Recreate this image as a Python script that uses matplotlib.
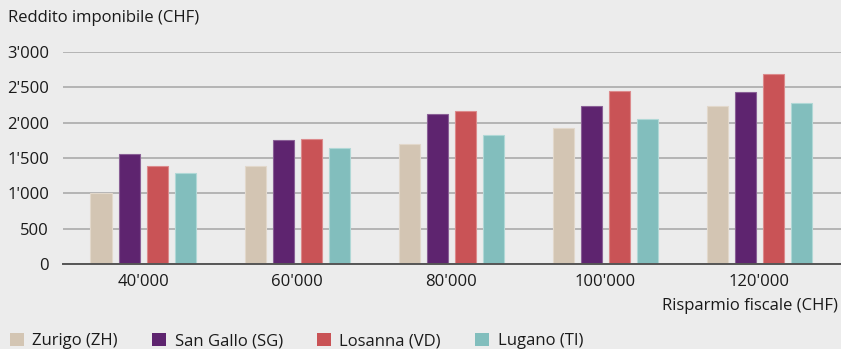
import numpy as np
import matplotlib.pyplot as plt
from matplotlib.patches import Patch

plt.rcParams['font.family'] = ['Open Sans', 'DejaVu Sans']

savings = ["40'000", "60'000", "80'000", "100'000", "120'000"]
cities = ['Zurigo (ZH)', 'San Gallo (SG)', 'Losanna (VD)', 'Lugano (TI)']
zurigo = [1000, 1385, 1695, 1925, 2240]
san_gallo = [1555, 1750, 2118, 2240, 2430]
losanna = [1385, 1765, 2170, 2448, 2693]
lugano = [1283, 1645, 1820, 2047, 2274]
yticks = [0, 500, 1000, 1500, 2000, 2500, 3000]
ytick_labels = ['0', '500', "1'000", "1'500", "2'000", "2'500", "3'000"]

colors = ['#d3c5b3', '#5e246f', '#c95356', '#82bebd']
edges = ['#e2d8cb', '#8a6096', '#dc8a8c', '#b0d8d6']
bg = '#ececec'

fig = plt.figure(figsize=(8.41, 3.49), dpi=100, facecolor=bg)
ax = fig.add_axes([63 / 841, 1 - 264 / 349, 778 / 841, 212 / 349], facecolor=bg)

x = np.arange(len(savings))
width = 0.137
pitch = 0.182
series = [zurigo, san_gallo, losanna, lugano]
for i, vals in enumerate(series):
    ax.bar(x + (i - 1.5) * pitch, vals, width, color=colors[i],
           edgecolor=edges[i], linewidth=0.8, zorder=3)

ax.set_xlim(-0.52, 4.53)
ax.set_ylim(0, 3000)
ax.set_yticks(yticks)
ax.set_yticklabels(ytick_labels)
ax.set_xticks(x)
ax.set_xticklabels(savings)
ax.tick_params(axis='both', length=0, labelsize=12, colors='#1a1a1a')
ax.tick_params(axis='y', pad=10)
ax.tick_params(axis='x', pad=7)
ax.grid(axis='y', color='#b4b4b4', linewidth=1.4, zorder=0)
for s in ['top', 'right', 'left']:
    ax.spines[s].set_visible(False)
ax.spines['bottom'].set_color('#555555')
ax.spines['bottom'].set_linewidth(1.4)
ax.spines['bottom'].set_zorder(4)

fig.text(8 / 841, 1 - 18 / 349, 'Reddito imponibile (CHF)', fontsize=12,
         color='#1a1a1a', va='center', ha='left')
fig.text(838 / 841, 1 - 306 / 349, 'Risparmio fiscale (CHF)', fontsize=12,
         color='#1a1a1a', va='center', ha='right')

handles = [Patch(facecolor=c, edgecolor='none') for c in colors]
fig.legend(handles, cities, loc='center left', bbox_to_anchor=(10 / 841, 1 - 341 / 349),
           ncol=4, frameon=False, fontsize=12, handlelength=0.85, handleheight=0.85,
           handletextpad=0.5, columnspacing=2.05, labelcolor='#1a1a1a',
           borderaxespad=0, borderpad=0)

fig.savefig('out.png', dpi=100, facecolor=bg)
